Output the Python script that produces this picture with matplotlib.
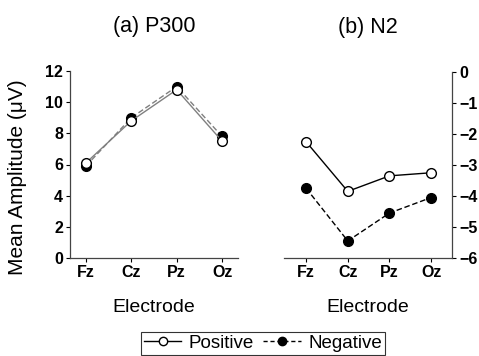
import matplotlib
matplotlib.use("Agg")
import matplotlib.pyplot as plt
from matplotlib.lines import Line2D

plt.rcParams['font.family'] = ['Liberation Sans', 'DejaVu Sans']

electrodes = ["Fz", "Cz", "Pz", "Oz"]
p300_positive = [6.1, 8.8, 10.8, 7.5]
p300_negative = [5.9, 9.0, 11.0, 7.8]
n2_positive = [-2.25, -3.85, -3.35, -3.25]
n2_negative = [-3.75, -5.45, -4.55, -4.05]

W, H = 479, 356
fig = plt.figure(figsize=(W / 100, H / 100), dpi=100)

def rect(x0, x1, ytop, ybot):
    return [x0 / W, 1 - ybot / H, (x1 - x0) / W, (ybot - ytop) / H]

ax1 = fig.add_axes(rect(70, 238, 71, 258))
ax2 = fig.add_axes(rect(284, 452, 72, 258))

x = list(range(len(electrodes)))
ms = 7

ax1.plot(x, p300_positive, color='#808080', lw=1, ls='-', marker='o', ms=ms,
         mfc='white', mec='black', mew=1, zorder=3)
ax1.plot(x, p300_negative, color='#808080', lw=1, ls=(0, (4, 2)), marker='o', ms=ms,
         mfc='black', mec='black', mew=1, zorder=2)
ax1.set_xlim(-0.35, 3.35)
ax1.set_ylim(0, 12)
ax1.set_yticks(range(0, 13, 2))
ax1.spines['top'].set_visible(False)
ax1.spines['right'].set_visible(False)
ax1.set_ylabel("Mean Amplitude (μV)", fontsize=15)
ax1.yaxis.set_label_coords(-0.256, 0.433)
ax1.set_title("(a) P300", fontsize=15.5, pad=28)

ax2.plot(x, n2_positive, color='black', lw=1, ls='-', marker='o', ms=ms,
         mfc='white', mec='black', mew=1, zorder=3)
ax2.plot(x, n2_negative, color='black', lw=1, ls=(0, (4, 2)), marker='o', ms=ms,
         mfc='black', mec='black', mew=1, zorder=2)
ax2.set_xlim(-0.53, 3.5)
ax2.set_ylim(-6, 0)
ax2.set_yticks(range(-6, 1))
ax2.yaxis.tick_right()
ax2.spines['top'].set_visible(False)
ax2.spines['left'].set_visible(False)
ax2.set_title("(b) N2", fontsize=15.5, pad=28)

for ax in (ax1, ax2):
    ax.set_xticks(x)
    ax.set_xticklabels(electrodes)
    ax.set_xlabel("Electrode", fontsize=14, labelpad=14)
    ax.tick_params(length=3, width=0.8, labelsize=11.5, pad=2)
    for lab in ax.get_xticklabels() + ax.get_yticklabels():
        lab.set_fontweight('bold')
    for s in ax.spines.values():
        s.set_linewidth(0.9)
        s.set_color('#444444')

handles = [
    Line2D([], [], color='black', lw=1, ls='-', marker='o', ms=6, mfc='white', mec='black'),
    Line2D([], [], color='black', lw=1, ls=(0, (3, 2)), marker='o', ms=6, mfc='black', mec='black'),
]
leg = fig.legend(handles, ["Positive", "Negative"], loc='upper center',
                 bbox_to_anchor=(263 / W, 1 - 332 / H), ncol=2, fontsize=13.5,
                 frameon=True, fancybox=False, edgecolor='black',
                 handlelength=2.0, handletextpad=0.4, columnspacing=0.5,
                 borderpad=0.15, borderaxespad=0)
leg.get_frame().set_linewidth(0.8)

fig.savefig("out.png", dpi=100)
